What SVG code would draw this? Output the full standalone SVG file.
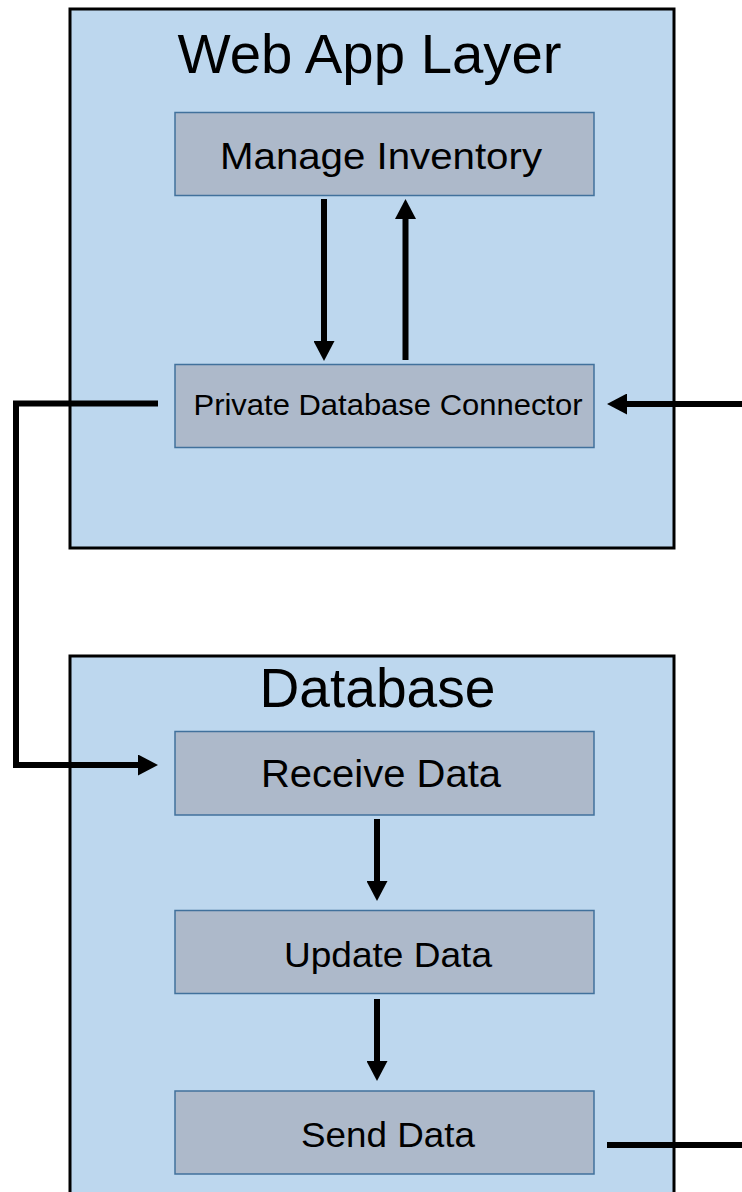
<svg xmlns="http://www.w3.org/2000/svg" width="742" height="1192" viewBox="0 0 742 1192">
  <style>
    .layer { fill: #bdd7ee; stroke: #000; stroke-width: 3; }
    .node { fill: #adb9ca; stroke: #41719c; stroke-width: 1.5; }
    .title { font-family: "Liberation Sans", Arial, sans-serif; font-size: 56px; fill: #000; text-anchor: middle; }
    .label { font-family: "Liberation Sans", Arial, sans-serif; fill: #000; text-anchor: middle; }
    .conn { fill: none; stroke: #000; stroke-width: 6; }
  </style>
  <defs>
    <marker id="ah" markerUnits="userSpaceOnUse" markerWidth="21" markerHeight="21" refX="10" refY="10.5" orient="auto">
      <path d="M0,0 L20,10.5 L0,21 z" fill="#000"/>
    </marker>
  </defs>
  <rect width="742" height="1192" fill="#fff"/>

  <g id="web-app-layer">
    <rect class="layer" x="70" y="9" width="604" height="539"/>
    <text class="title" x="369.5" y="72.5" textLength="384" lengthAdjust="spacingAndGlyphs">Web App Layer</text>
  </g>
  <g id="database-layer">
    <rect class="layer" x="70" y="656" width="604" height="560"/>
    <text class="title" x="377.5" y="706.5" textLength="236" lengthAdjust="spacingAndGlyphs">Database</text>
  </g>

  <g id="manage-inventory">
    <rect class="node" x="175" y="112.5" width="419" height="83"/>
    <text class="label" x="381" y="168.5" font-size="36" textLength="322" lengthAdjust="spacingAndGlyphs">Manage Inventory</text>
  </g>
  <g id="private-db-connector">
    <rect class="node" x="175" y="364.5" width="419" height="83"/>
    <text class="label" x="388" y="415" font-size="30" textLength="389" lengthAdjust="spacingAndGlyphs">Private Database Connector</text>
  </g>
  <g id="receive-data">
    <rect class="node" x="175" y="731.5" width="419" height="83.5"/>
    <text class="label" x="381" y="787" font-size="39" textLength="240" lengthAdjust="spacingAndGlyphs">Receive Data</text>
  </g>
  <g id="update-data">
    <rect class="node" x="175" y="910.5" width="419" height="83"/>
    <text class="label" x="388" y="967" font-size="35" textLength="208" lengthAdjust="spacingAndGlyphs">Update Data</text>
  </g>
  <g id="send-data">
    <rect class="node" x="175" y="1091" width="419" height="83"/>
    <text class="label" x="388" y="1146.5" font-size="35" textLength="174" lengthAdjust="spacingAndGlyphs">Send Data</text>
  </g>

  <g id="connectors">
    <line class="conn" x1="324" y1="199" x2="324" y2="351" marker-end="url(#ah)"/>
    <line class="conn" x1="405.5" y1="360" x2="405.5" y2="209" marker-end="url(#ah)"/>
    <line class="conn" x1="742" y1="404" x2="617" y2="404" marker-end="url(#ah)"/>
    <path class="conn" d="M158,403.5 H16 V765 H148" marker-end="url(#ah)"/>
    <line class="conn" x1="377" y1="819" x2="377" y2="891" marker-end="url(#ah)"/>
    <line class="conn" x1="377" y1="999" x2="377" y2="1071" marker-end="url(#ah)"/>
    <line class="conn" x1="607" y1="1145" x2="742" y2="1145"/>
  </g>
</svg>
